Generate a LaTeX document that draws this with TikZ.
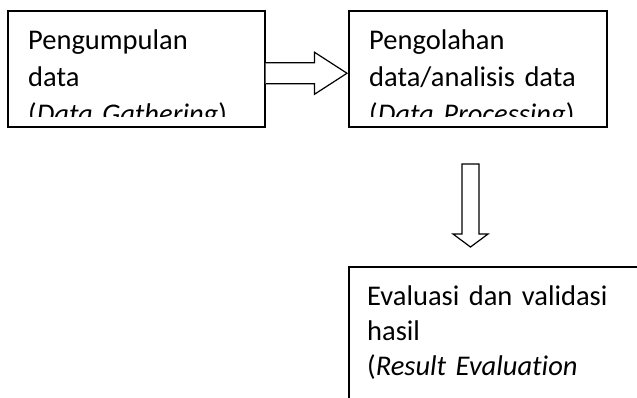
\documentclass[tikz,border=0pt]{standalone}
\usepackage{fontspec}
\setmainfont{Carlito}[Ligatures=NoCommon]
\tikzset{
  kotak/.style={draw, line width=1.5pt, anchor=north west, inner sep=0pt,
    minimum width=257pt, minimum height=116pt},
  isi/.style={anchor=base west, inner sep=0pt, text width=300pt, align=left,
    font=\fontsize{28.5}{37}\selectfont},
  panah/.style={draw, line width=1.2pt, line join=miter, fill=white},
}
\begin{document}
\begin{tikzpicture}[x=1pt,y=1pt]
  \clip (0,0) rectangle (637,-397);
  % kotak proses
  \node[kotak] (kumpul) at (7,-10) {};
  \node[kotak, minimum width=258pt] (olah) at (348,-10) {};
  \node[kotak, minimum width=320pt, minimum height=160pt] (evaluasi) at (348,-266) {};
  % teks di dalam kotak
  \begin{scope}
    \clip (kumpul.north west) rectangle ([yshift=11]kumpul.south east);
    \node[isi] (tkumpul) at ([shift={(21,-39)}]kumpul.north west)
      {Pengumpulan\\data\\(\textit{Data Gathering})};
  \end{scope}
  \begin{scope}
    \clip (olah.north west) rectangle ([yshift=11]olah.south east);
    \node[isi] (tolah) at ([shift={(21,-39)}]olah.north west)
      {Pengolahan\\data/analisis data\\(\textit{Data Processing})};
  \end{scope}
  \node[isi, font=\fontsize{28.5}{35}\selectfont] (tevaluasi)
    at ([shift={(19,-39)}]evaluasi.north west)
    {Evaluasi dan validasi\\hasil\\(\textit{Result Evaluation}};
  % panah blok
  \coordinate (a1) at ([yshift=-4.5]kumpul.east);
  \draw[panah] ([yshift=10.5]a1) -- ++(49,0) -- ++(0,10.5)
    -- ([xshift=-1]olah.west |- a1)
    -- ([shift={(49,-21)}]a1) -- ++(0,10.5) -- ([yshift=-10.5]a1);
  \coordinate (a2) at (470.5,-164);
  \draw[panah] ([xshift=-8.5]a2) -- ++(0,-70) -- ++(-9,0)
    -- ([yshift=19]a2 |- evaluasi.north)
    -- ([shift={(17.5,-70)}]a2) -- ++(-9,0) -- ([xshift=8.5]a2) -- cycle;
\end{tikzpicture}
\end{document}
